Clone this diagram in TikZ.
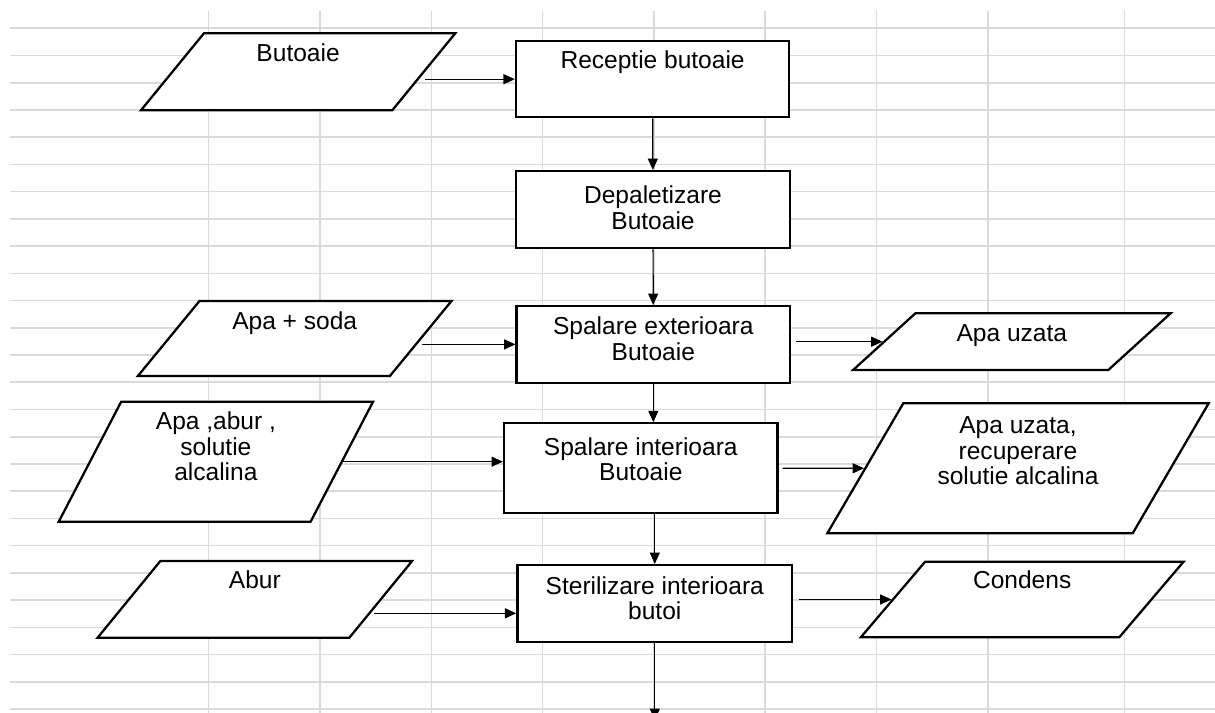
\documentclass[tikz,border=0pt]{standalone}
\usepackage{fontspec}
\setmainfont{Liberation Sans}
\usepackage{tikz}
\usetikzlibrary{shapes.geometric,arrows.meta}

\newlength{\px}
\setlength{\px}{0.75pt}
% text at the top of a shape: [first baseline]{width}{height}{lines}
\newcommand{\shapetext}[4][28]{\parbox[c][#3\px][t]{#2\px}{\centering\rule{0pt}{#1\px}#4}}

\tikzset{
  proc/.style={draw, line width=1.7pt, fill=white, rectangle, inner sep=0pt,
    font=\fontsize{18.4}{19.3}\selectfont},
  io/.style={draw, line width=1.7pt, fill=white, trapezium, inner sep=0pt,
    font=\fontsize{18.4}{19.3}\selectfont},
  arr/.style={line width=0.9pt, -{Triangle[length=8.5pt,width=7.5pt]}},
  gridline/.style={line width=1.2pt, color={rgb, 255:red, 218; green, 218; blue, 218}}
}

\begin{document}
\begin{tikzpicture}[x=0.75pt,y=0.75pt,yscale=-1,xscale=1]
        \useasboundingbox (0,0) rectangle (1215,713);
        % sheet grid
        \foreach \gx in {208.6,320,431.3,542.3,653.7,764.7,876.5,988.2,1124.5}
          \draw [gridline] (\gx,11) -- (\gx,713) ;
        \foreach \k in {0,...,25}
          \draw [gridline] (10,28.3+27.23*\k) -- (1215,28.3+27.23*\k) ;

        % process steps
        \node [proc] (receptie) at (652.6,79.2) {\shapetext[27.3]{273.3}{76.3}{Receptie butoaie}};
        \node [proc] (depal) at (653,209.7) {\shapetext[32.5]{274}{77.3}{Depaletizare\\Butoaie}};
        \node [proc] (ext) at (653.3,344.4) {\shapetext[28.3]{273.4}{76.7}{Spalare exterioara\\Butoaie}};
        \node [proc] (int) at (640.8,468.3) {\shapetext[31.7]{273.6}{90}{Spalare interioara\\Butoaie}};
        \node [proc] (steril) at (654.8,603.4) {\shapetext[29]{274.8}{76.7}{Sterilizare interioara\\butoi}};

        % inputs
        \node [io, trapezium left angle=50.7, trapezium right angle=129.3] (butoaie) at (298.1,71.8) {\shapetext[28.7]{188.3}{77}{Butoaie}};
        \node [io, trapezium left angle=50.6, trapezium right angle=129.4] (apasoda) at (294.7,338.5) {\shapetext[28.3]{190.4}{75}{Apa + soda}};
        \node [io, trapezium left angle=62.5, trapezium right angle=117.5] (apaabur) at (215.9,461.7) {\shapetext[27.6]{189.4}{120}{Apa ,abur ,\\solutie\\alcalina}};
        \node [io, trapezium left angle=50.7, trapezium right angle=129.3] (abur) at (254.9,599.3) {\shapetext[27.3]{189}{76.7}{Abur}};

        % outputs
        \node [io, trapezium left angle=42.3, trapezium right angle=137.7] (uzata) at (1011.8,341.7) {\shapetext[28.4]{192.9}{56.7}{Apa uzata}};
        \node [io, trapezium left angle=59.7, trapezium right angle=120.3] (recup) at (1018,468.3) {\shapetext[30]{229.4}{130}{Apa uzata,\\recuperare\\solutie alcalina}};
        \node [io, trapezium left angle=49.6, trapezium right angle=130.4] (condens) at (1022.2,599.5) {\shapetext[26.6]{194.1}{75.6}{Condens}};

        \coordinate (exit) at (654.8,720);
        \path (abur.east) ++(-8,14) coordinate (aburout);

        % main line
        \draw [arr] (receptie) -- (depal) ;
        \draw [arr] (depal) -- (ext) ;
        \draw [arr] (ext.south) -- (ext.south |- int.north) ;
        \draw [arr] (int.south -| steril.north) -- (steril.north) ;
        \draw [arr] (steril) -- (exit) ;

        % side flows
        \draw [arr] (butoaie.east |- receptie.west) -- (receptie.west) ;
        \draw [arr] (apasoda.east |- ext.west) -- (ext.west) ;
        \draw [arr] (apaabur.east) -- (apaabur.east -| int.west) ;
        \draw [arr] (aburout) -- (aburout -| steril.west) ;
        \draw [arr] (ext.east |- uzata.west) ++(5,0) -- (uzata.west) ;
        \draw [arr] (int.east) ++(4,0) -- (recup.west) ;
        \draw [arr] (steril.east |- condens.west) ++(6,0) -- (condens.west) ;
    \end{tikzpicture}
\end{document}
